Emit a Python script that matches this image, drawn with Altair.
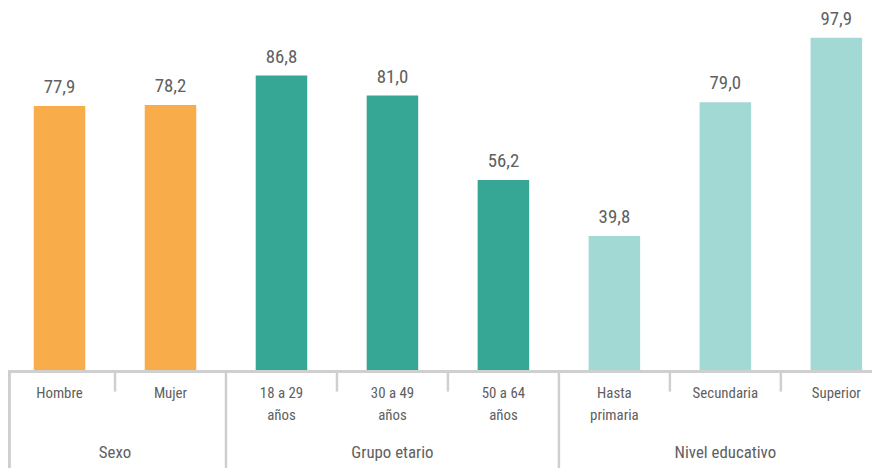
import altair as alt
import pandas as pd

cats = ["Hombre", "Mujer", "18 a 29 años", "30 a 49 años", "50 a 64 años",
        "Hasta primaria", "Secundaria", "Superior"]
labels = ["Hombre", "Mujer", "18 a 29\naños", "30 a 49\naños", "50 a 64\naños",
          "Hasta\nprimaria", "Secundaria", "Superior"]
groups = ["Sexo", "Sexo", "Grupo etario", "Grupo etario", "Grupo etario",
          "Nivel educativo", "Nivel educativo", "Nivel educativo"]
values = [77.9, 78.2, 86.8, 81.0, 56.2, 39.8, 79.0, 97.9]
group_names = ["Sexo", "Grupo etario", "Nivel educativo"]
group_colors = ["#F9AD4A", "#37A795", "#A2D9D5"]

FONT = "Roboto Condensed, Liberation Sans Narrow, Roboto, sans-serif"
TXT = "#606060"
LINE = "#CFCFCF"

df = pd.DataFrame({"cat": cats, "label": labels, "group": groups, "value": values})
first_of_group = [cats[2], cats[5]]
df["first"] = df["cat"].isin(first_of_group)
df["inner"] = ~df["cat"].isin([cats[0], cats[2], cats[5]])

x_scale = alt.Scale(domain=cats, paddingInner=0, paddingOuter=0, range=[-4, 892])
y_scale = alt.Scale(domain=[0, 106], range=[365, 0])
color_scale = alt.Scale(domain=group_names, range=group_colors)

base = alt.Chart(df)

bars = base.mark_bar(width=52).encode(
    x=alt.X("cat:N", scale=x_scale, axis=None, sort=cats),
    y=alt.Y("value:Q", scale=y_scale, axis=None),
    color=alt.Color("group:N", scale=color_scale, legend=None),
)

vlabels = base.transform_calculate(
    txt="replace(format(datum.value, '.1f'), '.', ',')"
).mark_text(baseline="alphabetic", dy=-13, font=FONT, fontSize=19, color=TXT).encode(
    x=alt.X("cat:N", scale=x_scale, sort=cats),
    y=alt.Y("value:Q", scale=y_scale),
    text="txt:N",
)

axis_line = base.mark_rule(color=LINE, strokeWidth=2.5).encode(
    x=alt.value(0), x2=alt.value(880), y=alt.value(365)
)

left_edge = base.mark_rule(color=LINE, strokeWidth=2.5).encode(
    x=alt.value(1), y=alt.value(365), y2=alt.value(470)
)

short_ticks = base.transform_filter("datum.inner").mark_rule(color=LINE, strokeWidth=2.5).encode(
    x=alt.X("cat:N", scale=x_scale, sort=cats, bandPosition=0),
    y=alt.value(365), y2=alt.value(385),
)

long_ticks = base.transform_filter("datum.first").mark_rule(color=LINE, strokeWidth=2.5).encode(
    x=alt.X("cat:N", scale=x_scale, sort=cats, bandPosition=0),
    y=alt.value(365), y2=alt.value(470),
)

cat_labels = base.mark_text(baseline="top", lineBreak="\n", lineHeight=23,
                            font=FONT, fontSize=15, color=TXT).encode(
    x=alt.X("cat:N", scale=x_scale, sort=cats),
    y=alt.value(379),
    text="label:N",
)

gdf = pd.DataFrame({"group": group_names, "anchor": ["Mujer", "30 a 49 años", "Secundaria"]})
g_edge = alt.Chart(gdf).transform_filter("datum.group == 'Sexo'").mark_text(
    baseline="middle", font=FONT, fontSize=17, color=TXT).encode(
    x=alt.X("anchor:N", scale=x_scale, sort=cats, bandPosition=0),
    y=alt.value(447),
    text="group:N",
)
g_mid = alt.Chart(gdf).transform_filter("datum.group != 'Sexo'").mark_text(
    baseline="middle", font=FONT, fontSize=17, color=TXT).encode(
    x=alt.X("anchor:N", scale=x_scale, sort=cats),
    y=alt.value(447),
    text="group:N",
)

chart = alt.layer(bars, vlabels, axis_line, left_edge, short_ticks, long_ticks,
                  cat_labels, g_edge, g_mid).properties(
    width=872, height=460, padding=0, background="white",
    autosize=alt.AutoSizeParams(type="none")
).configure_view(stroke=None)

chart.save("out.html", embed_options={"renderer": "svg", "actions": False})
